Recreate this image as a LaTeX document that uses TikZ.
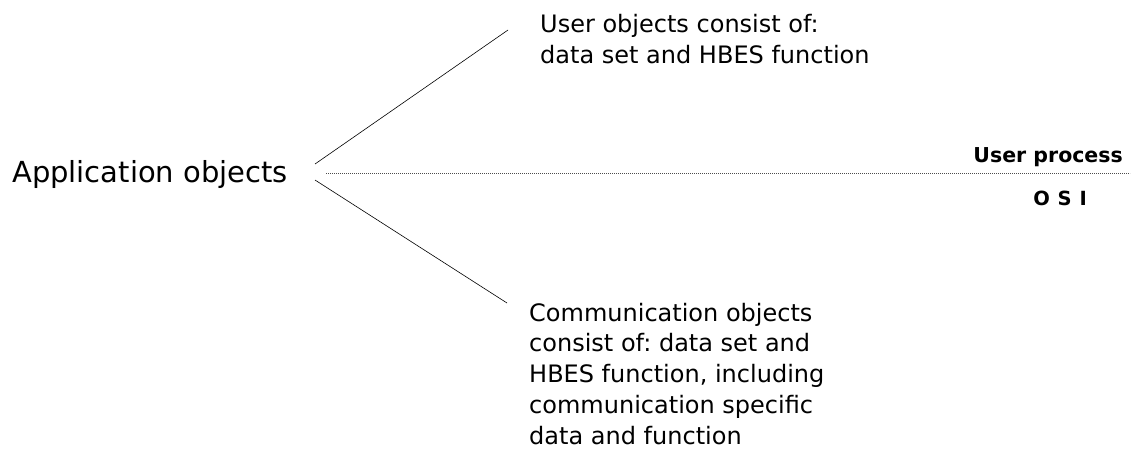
\documentclass[tikz,border=0pt]{standalone}
\usepackage{fontspec}
\setmainfont{DejaVu Sans}
\frenchspacing
\begin{document}
\begin{tikzpicture}[x=1pt,y=-1pt,
  lbl/.style={inner sep=0pt, align=left, anchor=north west},
  thin line/.style={draw=black, line width=0.6pt},
  layer line/.style={draw=black!70, line width=0.7pt, dash pattern=on 1.2pt off 0.8pt}]
\useasboundingbox (0,0) rectangle (1131,448);
\node[inner sep=0pt, anchor=base west, font=\fontsize{29}{33}\selectfont] (app) at (12,182) {Application objects};
\node[lbl, font=\fontsize{24}{31}\selectfont] (user) at (540,13.8) {User objects consist of:\\data set and HBES function};
\node[lbl, font=\fontsize{24}{30.7}\selectfont] (comm) at (529,302.8) {Communication objects\\consist of: data set and\\HBES function, including\\communication specific\\data and function};
\node[inner sep=0pt, anchor=base east, font=\bfseries\fontsize{20.5}{24}\selectfont] (up) at (1123,162) {User process};
\node[inner sep=0pt, anchor=base east, font=\bfseries\fontsize{19.5}{22}\selectfont] (osi) at (1087,205) {O\hspace{0.4em}S\hspace{0.4em}I};
\coordinate (a1) at (315,164);
\coordinate (a2) at (315,180);
\coordinate (a3) at (326,173);
\coordinate (u1) at (508,30);
\coordinate (c1) at (507,303);
\coordinate (r1) at (1130,173);
\draw[thin line] (a1) -- (u1);
\draw[thin line] (a2) -- (c1);
\draw[layer line] (a3) -- (r1);
\end{tikzpicture}
\end{document}
